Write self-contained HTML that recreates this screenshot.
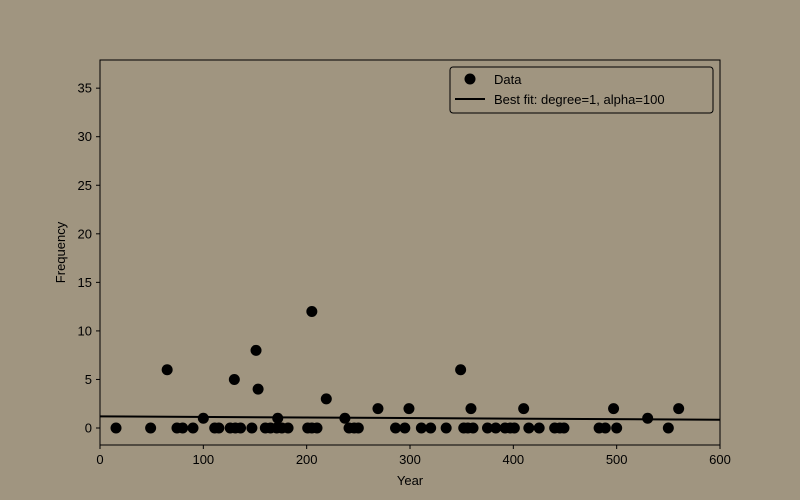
<!DOCTYPE html>
<html><head><meta charset="utf-8"><style>
html,body{margin:0;padding:0;background:#a09580;}
svg{display:block;font-family:"Liberation Sans","DejaVu Sans",sans-serif;}
</style></head><body>
<svg id="chart" width="800" height="500">
<rect x="0" y="0" width="800" height="500" fill="#a09580"/>
<g id="plot"></g>
</svg>
<script>
const zeroYears=[15.5,49,74.5,80,90,111,115,126,131,136,147,160,165,171,176,182,201,205,210,241,246,250,286,295,311,320,335,352,356,361,375,383,392,397,401,415,425,440,445,449,483,489,500,550];
const nzYears=[65,100,130,151,153,172,205,219,237,269,299,349,359,410,497,530,560];
const nzFreq=[6,1,5,8,4,1,12,3,1,2,2,6,2,2,2,1,2];
const fitX=[0,600];
const fitY=[1.2,0.85];
const xTicks=[0,100,200,300,400,500,600];
const yTicks=[0,5,10,15,20,25,30,35];
const NS="http://www.w3.org/2000/svg";
const L=100,R=720,T=60,B=445,xMin=0,xMax=600,yMin=-1.75,yMax=37.9;
const sx=v=>L+(v-xMin)/(xMax-xMin)*(R-L);
const sy=v=>B-(v-yMin)/(yMax-yMin)*(B-T);
const g=document.getElementById('plot');
function mk(t,a,p){const e=document.createElementNS(NS,t);for(const k in a)e.setAttribute(k,a[k]);(p||g).appendChild(e);return e;}
const frame=mk('rect',{x:L,y:T,width:R-L,height:B-T,fill:'none',stroke:'#000','stroke-width':1});


xTicks.forEach(v=>{
 const l=mk('line',{x1:sx(v),x2:sx(v),y1:B,y2:B+4,stroke:'#000'});
 
 
 const t=mk('text',{x:sx(v),y:B+19,'text-anchor':'middle','font-size':13});t.textContent=v;
 
 
});
yTicks.forEach(v=>{
 const l=mk('line',{x1:L-4,x2:L,y1:sy(v),y2:sy(v),stroke:'#000'});
 
 
 const t=mk('text',{x:L-8,y:sy(v)+4.5,'text-anchor':'end','font-size':13});t.textContent=v;
 
 
});
const xt=mk('text',{x:(L+R)/2,y:485,'text-anchor':'middle','font-size':13});xt.textContent='Year';


const yt=mk('text',{x:0,y:0,'text-anchor':'middle','font-size':13,transform:`translate(65,${(T+B)/2}) rotate(-90)`});yt.textContent='Frequency';


zeroYears.forEach(x=>{
 const c=mk('circle',{cx:sx(x),cy:sy(0),r:5.5,fill:'#000'});
 
 
});
nzYears.forEach((x,i)=>{
 const c=mk('circle',{cx:sx(x),cy:sy(nzFreq[i]),r:5.5,fill:'#000'});
 
 
});
const fl=mk('polyline',{points:fitX.map((x,i)=>sx(x)+','+sy(fitY[i])).join(' '),fill:'none',stroke:'#000','stroke-width':2});


const lg=mk('g',{});


mk('rect',{x:450,y:67,width:263,height:46,rx:3,fill:'#a09580',stroke:'#000','stroke-width':1},lg);
mk('circle',{cx:470,cy:79,r:5.5,fill:'#000'},lg);
const t1=mk('text',{x:494,y:84,'font-size':13},lg);t1.textContent='Data';


mk('line',{x1:455,x2:485,y1:99,y2:99,stroke:'#000','stroke-width':2},lg);
const t2=mk('text',{x:494,y:104,'font-size':13},lg);t2.textContent='Best fit: degree=1, alpha=100';


</script>
</body></html>
